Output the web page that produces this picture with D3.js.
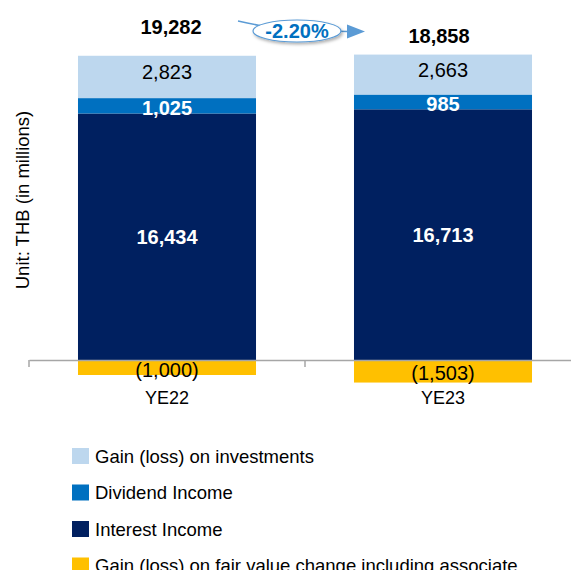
<!DOCTYPE html>
<html><head><meta charset="utf-8">
<script src="https://cdn.jsdelivr.net/npm/d3@7"></script>
<style>
html,body{margin:0;padding:0;background:#fff;}
svg{display:block;font-family:"Liberation Sans",Arial,sans-serif;}
</style></head>
<body><svg id="c" width="571" height="570"></svg>
<script>
const categories = ["YE22", "YE23"];
const seriesNames = ["Gain (loss) on investments", "Dividend Income", "Interest Income", "Gain (loss) on fair value change including associate"];
const gainInvestments = [2823, 2663];
const dividendIncome = [1025, 985];
const interestIncome = [16434, 16713];
const fairValueChange = [-1000, -1503];
const totals = [19282, 18858];
const changeLabel = "-2.20%";

const colors = {
  "Gain (loss) on investments": "#bdd7ee",
  "Dividend Income": "#0070c0",
  "Interest Income": "#002060",
  "Gain (loss) on fair value change including associate": "#ffc000"
};

const svg = d3.select("#c");
const x = d3.scaleBand().domain(categories).range([29, 581]).paddingInner(0.355).paddingOuter(0.1775);
const y = d3.scaleLinear().domain([0, 20000]).range([360, 60]);
const fmt = d3.format(",");
const fmtLabel = v => v < 0 ? "(" + fmt(-v) + ")" : fmt(v);

const segs = [];
categories.forEach((c, i) => {
  let base = 0;
  [["Interest Income", interestIncome[i]], ["Dividend Income", dividendIncome[i]], ["Gain (loss) on investments", gainInvestments[i]]].forEach(([name, v]) => {
    segs.push({cat: c, name, v, y0: base, y1: base + v, i});
    base += v;
  });
  segs.push({cat: c, name: seriesNames[3], v: fairValueChange[i], y0: fairValueChange[i], y1: 0, i});
});

svg.append("g").selectAll("rect").data(segs).join("rect")
  .attr("x", d => x(d.cat))
  .attr("width", x.bandwidth())
  .attr("y", d => y(d.y1))
  .attr("height", d => y(d.y0) - y(d.y1))
  .attr("fill", d => colors[d.name]);

const ax = svg.append("g").attr("transform", `translate(0,${y(0)})`)
  .call(d3.axisBottom(x).tickSize(0).tickFormat(""));
ax.select(".domain").attr("stroke", "#a6a6a6").attr("stroke-width", 1.5);
const bounds = [x.range()[0], x.range()[0] + x.step(), x.range()[0] + 2 * x.step()];
ax.selectAll(".sep").data(bounds).join("line").attr("class", "sep")
  .attr("x1", d => d).attr("x2", d => d).attr("y1", 0).attr("y2", 7)
  .attr("stroke", "#a6a6a6").attr("stroke-width", 1.5);

svg.append("g").selectAll("text").data(categories).join("text")
  .attr("x", d => x(d) + x.bandwidth() / 2)
  .attr("y", y(0) + 44)
  .attr("text-anchor", "middle")
  .attr("font-size", 18).attr("fill", "#000")
  .text(d => d);

const labelStyle = {
  "Gain (loss) on investments": {fill: "#000", weight: "normal", dy: -5},
  "Dividend Income": {fill: "#fff", weight: "bold", dy: 2},
  "Interest Income": {fill: "#fff", weight: "bold", dy: 0},
  "Gain (loss) on fair value change including associate": {fill: "#000", weight: "normal", dy: 2}
};
svg.append("g").selectAll("text").data(segs).join("text")
  .attr("x", d => x(d.cat) + x.bandwidth() / 2)
  .attr("y", d => (y(d.y0) + y(d.y1)) / 2 + labelStyle[d.name].dy)
  .attr("dy", "0.35em")
  .attr("text-anchor", "middle")
  .attr("font-size", 20)
  .attr("font-weight", d => labelStyle[d.name].weight)
  .attr("fill", d => labelStyle[d.name].fill)
  .text(d => fmtLabel(d.v));

const totalDy = [-22, -12];
svg.append("g").selectAll("text").data(categories).join("text")
  .attr("x", (d, i) => x(d) + x.bandwidth() / 2 + (i === 0 ? 4 : -4))
  .attr("y", (d, i) => y(gainInvestments[i] + dividendIncome[i] + interestIncome[i]) + totalDy[i])
  .attr("text-anchor", "middle")
  .attr("font-size", 20).attr("font-weight", "bold").attr("fill", "#000")
  .text((d, i) => fmt(totals[i]));

svg.append("text")
  .attr("transform", "translate(29,200) rotate(-90)")
  .attr("text-anchor", "middle")
  .attr("font-size", 18.5).attr("fill", "#000")
  .text("Unit: THB (in millions)");

const defs = svg.append("defs");
const f = defs.append("filter").attr("id", "sh").attr("x", "-20%").attr("y", "-40%").attr("width", "150%").attr("height", "200%");
f.append("feDropShadow").attr("dx", 1.5).attr("dy", 2).attr("stdDeviation", 1.5).attr("flood-color", "#000").attr("flood-opacity", 0.3);
const ann = svg.append("g");
ann.append("path").attr("d", "M238,21 Q262,26 280,30 L348,31.5")
  .attr("fill", "none").attr("stroke", "#5b9bd5").attr("stroke-width", 1.5);
ann.append("path").attr("d", "M347,24.5 L365,31.5 L347,38.5 Z").attr("fill", "#5b9bd5");
ann.append("ellipse").attr("cx", 297).attr("cy", 31).attr("rx", 44).attr("ry", 11)
  .attr("fill", "#fff").attr("stroke", "#5b9bd5").attr("stroke-width", 1.2).attr("filter", "url(#sh)");
ann.append("text").attr("x", 297).attr("y", 31).attr("dy", "0.36em")
  .attr("text-anchor", "middle").attr("font-size", 20).attr("font-weight", "bold").attr("fill", "#0070c0")
  .text(changeLabel);

const lg = svg.append("g").selectAll("g").data(seriesNames).join("g")
  .attr("transform", (d, i) => `translate(72,${448 + i * 36.5})`);
lg.append("rect").attr("width", 17).attr("height", 16).attr("fill", d => colors[d]);
lg.append("text").attr("x", 23).attr("y", 8).attr("dy", "0.36em")
  .attr("font-size", 18.5).attr("fill", "#000").text(d => d);
</script></body></html>
